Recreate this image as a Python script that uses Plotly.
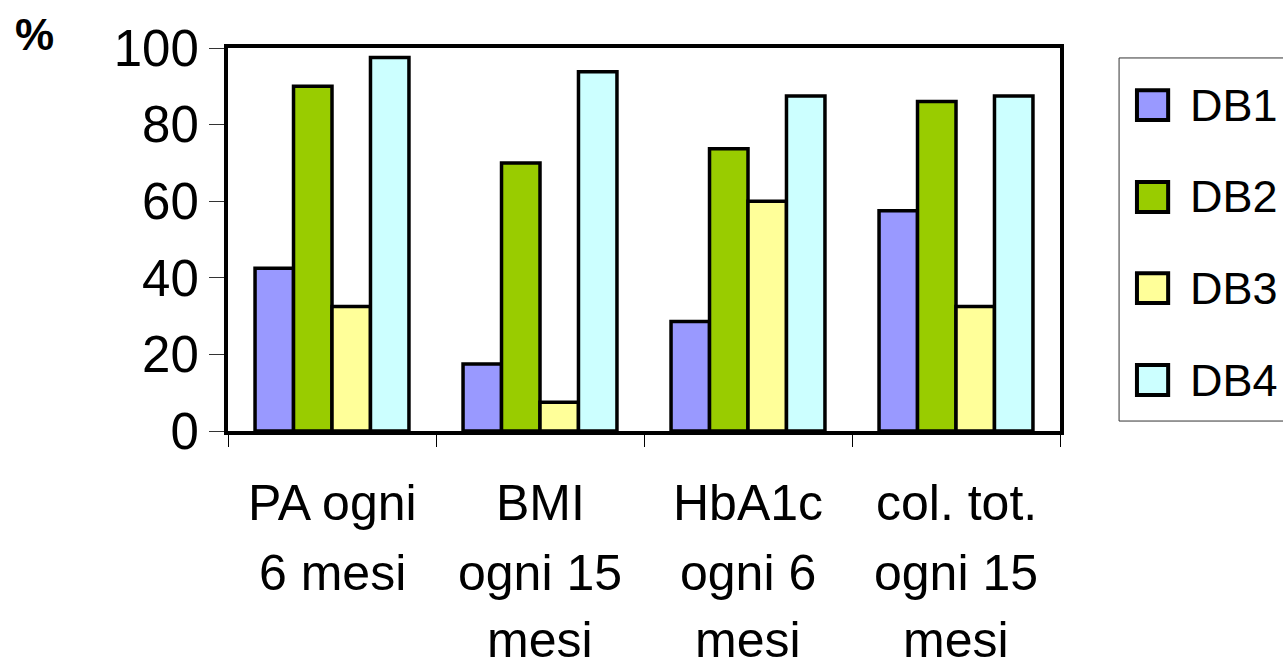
import plotly.graph_objects as go

categories = ["PA ogni\n6 mesi", "BMI\nogni 15\nmesi", "HbA1c\nogni 6\nmesi", "col. tot.\nogni 15\nmesi"]
series_names = ["DB1", "DB2", "DB3", "DB4"]
db1 = [42.5, 17.5, 28.6, 57.5]
db2 = [90.0, 70.0, 73.7, 86.0]
db3 = [32.5, 7.5, 60.0, 32.5]
db4 = [97.5, 93.8, 87.5, 87.5]
series_values = [db1, db2, db3, db4]
colors = ["#9999FF", "#99CC00", "#FFFF99", "#CCFFFF"]
y_ticks = [0, 20, 40, 60, 80, 100]

FONT = "Liberation Sans, Arial, sans-serif"

fig = go.Figure()
for i, (name, vals) in enumerate(zip(series_names, series_values)):
    fig.add_trace(go.Bar(
        name=name, x=categories, y=vals, showlegend=False,
        marker=dict(color=colors[i], line=dict(color="black", width=3.5)),
    ))

# multi-line category labels
line_y = [-0.188, -0.372, -0.545]
for cat in categories:
    for j, line in enumerate(cat.split("\n")):
        fig.add_annotation(x=cat, y=line_y[j], xref="x", yref="paper",
                           text=line, showarrow=False, xanchor="center", yanchor="middle",
                           font=dict(family=FONT, size=50, color="black"))

# axis unit label
fig.add_annotation(xref="paper", yref="paper", x=-0.258, y=1.036, text="<b>%</b>",
                   showarrow=False, xanchor="left", yanchor="middle",
                   font=dict(family=FONT, size=44, color="black"))

# legend box (drawn manually to match the large symbols)
shapes = [dict(type="rect", xref="paper", yref="paper", x0=1.071, x1=1.285, y0=0.026, y1=0.974,
               line=dict(color="#333333", width=1), fillcolor="white", layer="below")]
centers = [0.851, 0.611, 0.373, 0.133]
for i, name in enumerate(series_names):
    c = centers[i]
    shapes.append(dict(type="rect", xref="paper", yref="paper", x0=1.0925, x1=1.130,
                       y0=c - 0.039, y1=c + 0.039, fillcolor=colors[i],
                       line=dict(color="black", width=4)))
    fig.add_annotation(xref="paper", yref="paper", x=1.154, y=c, text=name,
                       showarrow=False, xanchor="left", yanchor="middle",
                       font=dict(family=FONT, size=45, color="black"))

fig.update_layout(
    width=1283, height=670,
    margin=dict(l=228, r=223, t=48, b=239),
    paper_bgcolor="white", plot_bgcolor="white",
    barmode="group", bargap=0.26, bargroupgap=0,
    showlegend=False,
    shapes=shapes,
    font=dict(family=FONT, color="black"),
)
fig.update_xaxes(showline=True, linecolor="black", linewidth=4, mirror=True,
                 showticklabels=False, ticks="outside", tickson="boundaries",
                 ticklen=12, tickwidth=1, tickcolor="black", showgrid=False)
fig.update_yaxes(range=[0, 100], tickvals=y_ticks, showline=True, linecolor="black",
                 linewidth=4, mirror=True, ticks="outside", ticklen=15, tickwidth=1,
                 tickcolor="#333333", showgrid=False, zeroline=False,
                 tickfont=dict(family=FONT, size=51, color="black"))

fig.write_html("out.html", config={"displayModeBar": False},
               post_script="document.body.style.margin='0';document.body.style.overflow='hidden';")
